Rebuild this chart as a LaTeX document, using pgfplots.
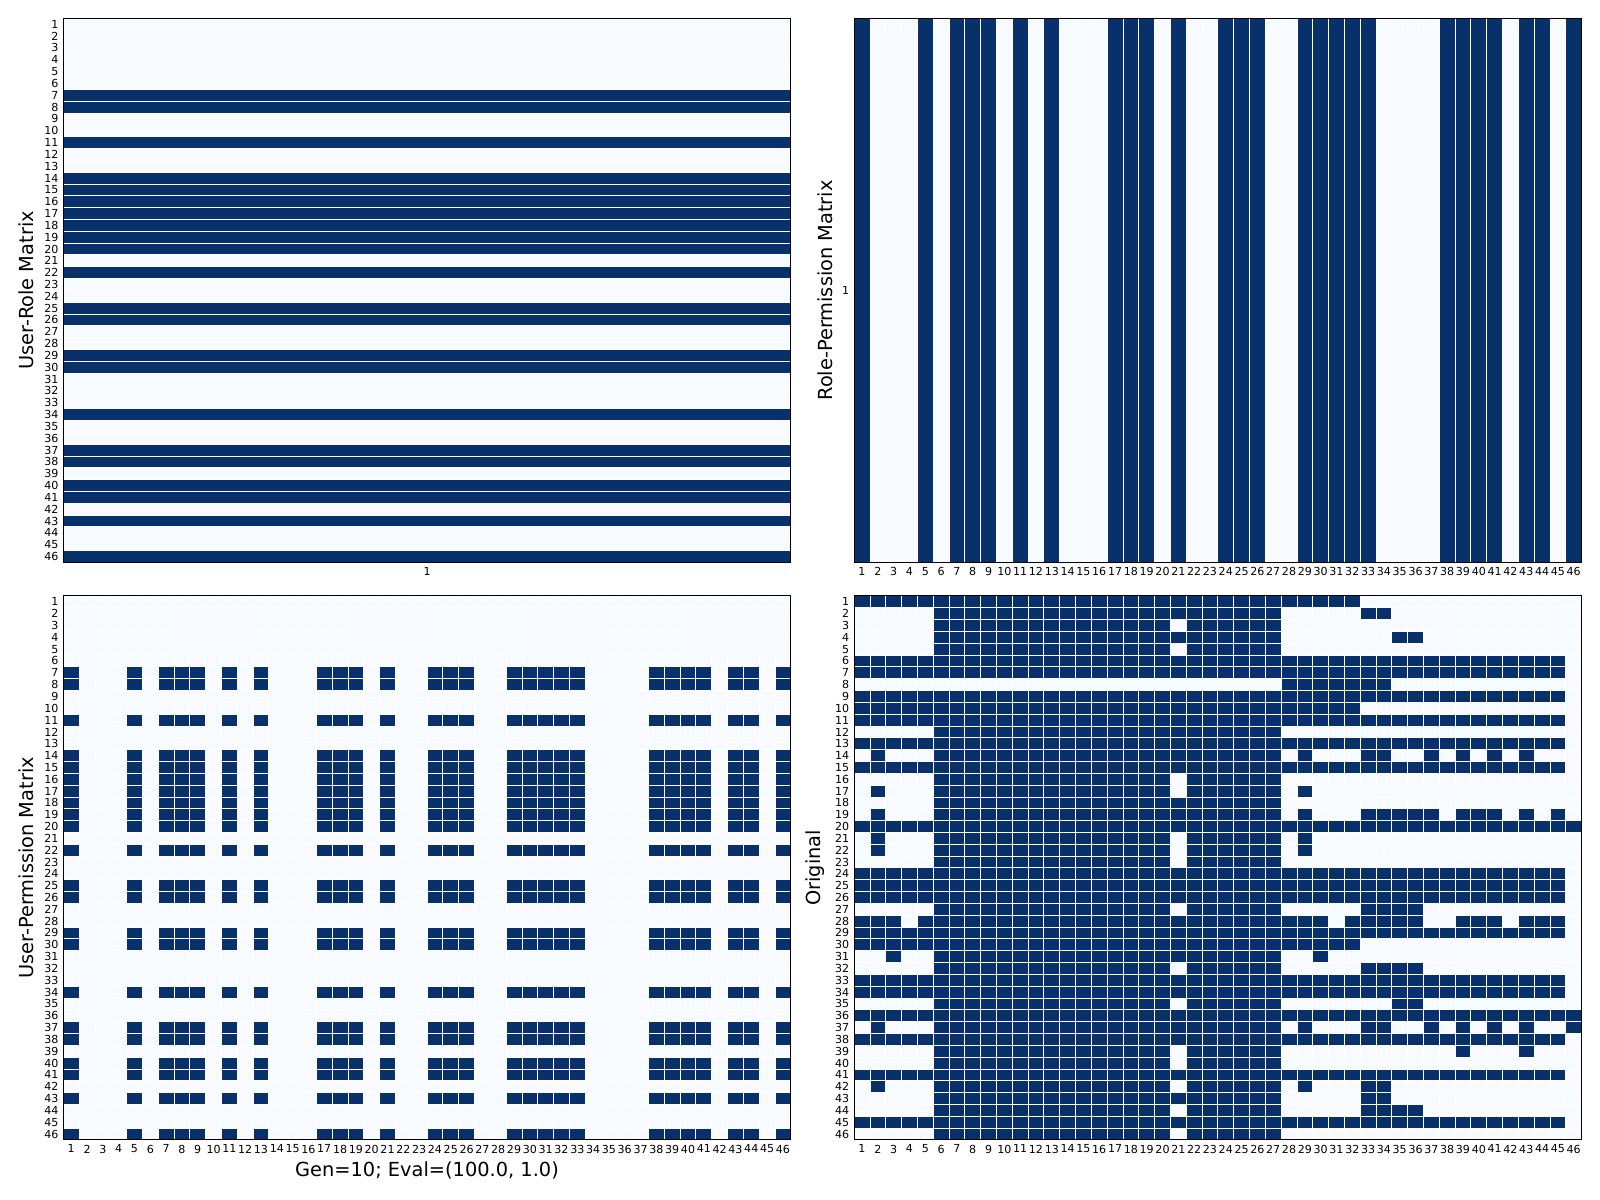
\documentclass[border=0pt]{standalone}
\usepackage{fontspec}
\setmainfont{DejaVu Sans}
\usepackage{pgfplots}
\pgfplotsset{compat=1.18}
\definecolor{dk}{HTML}{08306B}
\definecolor{lt}{HTML}{F7FBFF}
\pgfplotsset{
  hm/.style={
    scale only axis, width=7.275in, height=5.44in,
    anchor=north west,
    axis on top, clip=true,
    y dir=reverse,
    axis background/.style={fill=lt},
    major tick length=0pt, minor tick length=0pt,
    tick style={draw=none},
    tick label style={font=\fontsize{8}{9.5}\selectfont},
    /pgf/number format/assume math mode=true,
    axis line style={line width=0.8pt, black},
    minor grid style={white, line width=0.6pt},
    every axis y label/.style={at={(axis description cs:-0.0412,0.5)}, rotate=90, anchor=base, inner sep=0pt, font=\fontsize{14}{17}\selectfont},
    every axis x label/.style={at={(axis description cs:0.5,-0.068)}, anchor=base, inner sep=0pt, font=\fontsize{14}{17}\selectfont},
    unbounded coords=jump,
  },
}
\begin{document}
\begin{tikzpicture}
\path (0,0) rectangle (16in,12in);
% ---------------- User-Role matrix (46 x 1)
\begin{axis}[hm, at={(0.633in,11.816in)},
  xmin=0.5, xmax=1.5, ymin=0.5, ymax=46.5,
  xtick={1}, ytick={1,...,46},
  minor ytick={1.5,2.5,...,45.5}, yminorgrids=true,
  ylabel={User-Role Matrix}]
\addplot[draw=dk, line width=7.275in] coordinates {
(1,6.5)(1,8.5)(nan,nan) (1,10.5)(1,11.5)(nan,nan) (1,13.5)(1,20.5)(nan,nan)
(1,21.5)(1,22.5)(nan,nan) (1,24.5)(1,26.5)(nan,nan) (1,28.5)(1,30.5)(nan,nan)
(1,33.5)(1,34.5)(nan,nan) (1,36.5)(1,38.5)(nan,nan) (1,39.5)(1,41.5)(nan,nan)
(1,42.5)(1,43.5)(nan,nan) (1,45.5)(1,46.5)
};
\end{axis}
% ---------------- Role-Permission matrix (1 x 46)
\begin{axis}[hm, at={(8.541in,11.816in)},
  every axis y label/.style={at={(axis description cs:-0.0302,0.5)}, rotate=90, anchor=base, inner sep=0pt, font=\fontsize{14}{17}\selectfont},
  xmin=0.5, xmax=46.5, ymin=0.5, ymax=1.5,
  xtick={1,...,46}, ytick={1},
  minor xtick={1.5,2.5,...,45.5}, xminorgrids=true,
  ylabel={Role-Permission Matrix}]
\addplot[draw=dk, line width=5.44in] coordinates {
(0.5,1)(1.5,1)(nan,nan) (4.5,1)(5.5,1)(nan,nan) (6.5,1)(9.5,1)(nan,nan)
(10.5,1)(11.5,1)(nan,nan) (12.5,1)(13.5,1)(nan,nan) (16.5,1)(19.5,1)(nan,nan)
(20.5,1)(21.5,1)(nan,nan) (23.5,1)(26.5,1)(nan,nan) (28.5,1)(33.5,1)(nan,nan)
(37.5,1)(41.5,1)(nan,nan) (42.5,1)(44.5,1)(nan,nan) (45.5,1)(46.5,1)
};
\end{axis}
% ---------------- User-Permission matrix (46 x 46)
\begin{axis}[hm, at={(0.633in,6.041in)},
  xmin=0.5, xmax=46.5, ymin=0.5, ymax=46.5,
  xtick={1,...,46}, ytick={1,...,46},
  minor xtick={1.5,2.5,...,45.5}, minor ytick={1.5,2.5,...,45.5},
  xminorgrids=true, yminorgrids=true,
  ylabel={User-Permission Matrix}, xlabel={Gen=10; Eval=(100.0, 1.0)}]
% users holding the role
\addplot[draw=dk, line width=7.275in] coordinates {
(23.5,6.5)(23.5,8.5)(nan,nan) (23.5,10.5)(23.5,11.5)(nan,nan) (23.5,13.5)(23.5,20.5)(nan,nan)
(23.5,21.5)(23.5,22.5)(nan,nan) (23.5,24.5)(23.5,26.5)(nan,nan) (23.5,28.5)(23.5,30.5)(nan,nan)
(23.5,33.5)(23.5,34.5)(nan,nan) (23.5,36.5)(23.5,38.5)(nan,nan) (23.5,39.5)(23.5,41.5)(nan,nan)
(23.5,42.5)(23.5,43.5)(nan,nan) (23.5,45.5)(23.5,46.5)
};
% permissions not in the role
\addplot[draw=lt, line width=5.44in] coordinates {
(1.5,23.5)(4.5,23.5)(nan,nan) (5.5,23.5)(6.5,23.5)(nan,nan) (9.5,23.5)(10.5,23.5)(nan,nan)
(11.5,23.5)(12.5,23.5)(nan,nan) (13.5,23.5)(16.5,23.5)(nan,nan) (19.5,23.5)(20.5,23.5)(nan,nan)
(21.5,23.5)(23.5,23.5)(nan,nan) (26.5,23.5)(28.5,23.5)(nan,nan) (33.5,23.5)(37.5,23.5)(nan,nan)
(41.5,23.5)(42.5,23.5)(nan,nan) (44.5,23.5)(45.5,23.5)
};
\end{axis}
% ---------------- Original (46 x 46)
\begin{axis}[hm, at={(8.541in,6.041in)},
  every axis y label/.style={at={(axis description cs:-0.046,0.5)}, rotate=90, anchor=base, inner sep=0pt, font=\fontsize{14}{17}\selectfont},
  xmin=0.5, xmax=46.5, ymin=0.5, ymax=46.5,
  xtick={1,...,46}, ytick={1,...,46},
  minor xtick={1.5,2.5,...,45.5}, minor ytick={1.5,2.5,...,45.5},
  xminorgrids=true, yminorgrids=true,
  ylabel={Original}]
\addplot[draw=dk, line width=5.44in/46] coordinates {
(0.5,1)(32.5,1)(nan,nan)
(5.5,2)(27.5,2)(nan,nan) (32.5,2)(34.5,2)(nan,nan)
(5.5,3)(20.5,3)(nan,nan) (21.5,3)(27.5,3)(nan,nan)
(5.5,4)(27.5,4)(nan,nan) (34.5,4)(36.5,4)(nan,nan)
(5.5,5)(20.5,5)(nan,nan) (21.5,5)(27.5,5)(nan,nan)
(0.5,6)(45.5,6)(nan,nan)
(0.5,7)(45.5,7)(nan,nan)
(27.5,8)(34.5,8)(nan,nan)
(0.5,9)(45.5,9)(nan,nan)
(0.5,10)(32.5,10)(nan,nan)
(0.5,11)(45.5,11)(nan,nan)
(5.5,12)(27.5,12)(nan,nan)
(0.5,13)(45.5,13)(nan,nan)
(1.5,14)(2.5,14)(nan,nan) (5.5,14)(27.5,14)(nan,nan) (28.5,14)(29.5,14)(nan,nan) (32.5,14)(34.5,14)(nan,nan)
(36.5,14)(37.5,14)(nan,nan) (38.5,14)(39.5,14)(nan,nan) (40.5,14)(41.5,14)(nan,nan) (42.5,14)(43.5,14)(nan,nan)
(0.5,15)(45.5,15)(nan,nan)
(5.5,16)(20.5,16)(nan,nan) (21.5,16)(27.5,16)(nan,nan)
(1.5,17)(2.5,17)(nan,nan) (5.5,17)(20.5,17)(nan,nan) (21.5,17)(27.5,17)(nan,nan) (28.5,17)(29.5,17)(nan,nan)
(5.5,18)(27.5,18)(nan,nan)
(1.5,19)(2.5,19)(nan,nan) (5.5,19)(27.5,19)(nan,nan) (28.5,19)(29.5,19)(nan,nan) (32.5,19)(37.5,19)(nan,nan)
(38.5,19)(41.5,19)(nan,nan) (42.5,19)(43.5,19)(nan,nan) (44.5,19)(45.5,19)(nan,nan)
(0.5,20)(46.5,20)(nan,nan)
(1.5,21)(2.5,21)(nan,nan) (5.5,21)(20.5,21)(nan,nan) (21.5,21)(27.5,21)(nan,nan) (28.5,21)(29.5,21)(nan,nan)
(1.5,22)(2.5,22)(nan,nan) (5.5,22)(20.5,22)(nan,nan) (21.5,22)(27.5,22)(nan,nan) (28.5,22)(29.5,22)(nan,nan)
(5.5,23)(20.5,23)(nan,nan) (21.5,23)(27.5,23)(nan,nan)
(0.5,24)(45.5,24)(nan,nan)
(0.5,25)(45.5,25)(nan,nan)
(0.5,26)(45.5,26)(nan,nan)
(5.5,27)(20.5,27)(nan,nan) (21.5,27)(27.5,27)(nan,nan) (32.5,27)(36.5,27)(nan,nan)
(0.5,28)(3.5,28)(nan,nan) (4.5,28)(30.5,28)(nan,nan) (31.5,28)(36.5,28)(nan,nan) (38.5,28)(41.5,28)(nan,nan) (42.5,28)(45.5,28)(nan,nan)
(0.5,29)(45.5,29)(nan,nan)
(0.5,30)(32.5,30)(nan,nan)
(2.5,31)(3.5,31)(nan,nan) (5.5,31)(27.5,31)(nan,nan) (29.5,31)(30.5,31)(nan,nan)
(5.5,32)(20.5,32)(nan,nan) (21.5,32)(27.5,32)(nan,nan) (32.5,32)(36.5,32)(nan,nan)
(0.5,33)(45.5,33)(nan,nan)
(0.5,34)(45.5,34)(nan,nan)
(5.5,35)(20.5,35)(nan,nan) (21.5,35)(27.5,35)(nan,nan) (34.5,35)(36.5,35)(nan,nan)
(0.5,36)(46.5,36)(nan,nan)
(1.5,37)(2.5,37)(nan,nan) (5.5,37)(27.5,37)(nan,nan) (28.5,37)(29.5,37)(nan,nan) (32.5,37)(34.5,37)(nan,nan)
(36.5,37)(37.5,37)(nan,nan) (38.5,37)(39.5,37)(nan,nan) (40.5,37)(41.5,37)(nan,nan) (42.5,37)(43.5,37)(nan,nan) (45.5,37)(46.5,37)(nan,nan)
(0.5,38)(45.5,38)(nan,nan)
(5.5,39)(20.5,39)(nan,nan) (21.5,39)(27.5,39)(nan,nan) (38.5,39)(39.5,39)(nan,nan) (42.5,39)(43.5,39)(nan,nan)
(5.5,40)(20.5,40)(nan,nan) (21.5,40)(27.5,40)(nan,nan)
(0.5,41)(45.5,41)(nan,nan)
(1.5,42)(2.5,42)(nan,nan) (5.5,42)(20.5,42)(nan,nan) (21.5,42)(27.5,42)(nan,nan) (28.5,42)(29.5,42)(nan,nan) (32.5,42)(34.5,42)(nan,nan)
(5.5,43)(27.5,43)(nan,nan) (32.5,43)(34.5,43)(nan,nan)
(5.5,44)(20.5,44)(nan,nan) (21.5,44)(27.5,44)(nan,nan) (32.5,44)(36.5,44)(nan,nan)
(0.5,45)(45.5,45)(nan,nan)
(5.5,46)(20.5,46)(nan,nan) (21.5,46)(27.5,46)
};
\end{axis}
\end{tikzpicture}
\end{document}
